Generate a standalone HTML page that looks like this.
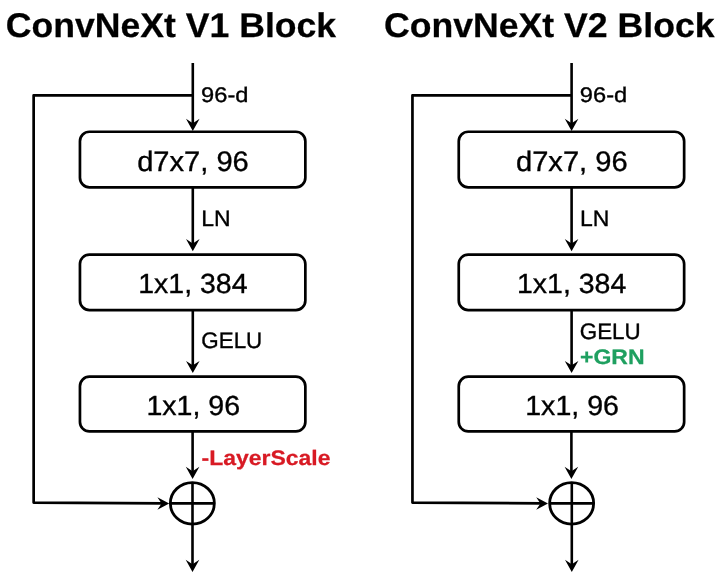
<!DOCTYPE html>
<html><head><meta charset="utf-8">
<style>
html,body{margin:0;padding:0;background:#fff;width:720px;height:577px;overflow:hidden}
svg{display:block;filter:blur(0.4px)}
text{font-family:"Liberation Sans",sans-serif;text-rendering:geometricPrecision}
</style></head><body>
<svg width="720" height="577" viewBox="0 0 720 577">
<g transform="translate(0,0)"><line x1="192.8" y1="63" x2="192.8" y2="124" stroke="#000" stroke-width="2.6"/>
<path d="M186.00,118.80 L192.80,131.00 L199.60,118.80 L192.80,123.20 Z" fill="#000"/>
<polyline points="192.8,95.3 33.65,95.3 33.65,502.6 164,503.4" fill="none" stroke="#000" stroke-width="2.7" stroke-linejoin="round"/>
<path d="M157.40,497.15 L169.20,503.40 L157.40,509.65 L161.60,503.40 Z" fill="#000"/>
<rect x="79.95" y="131.75" width="225.4" height="55.60" rx="9.5" fill="none" stroke="#000" stroke-width="2.7"/>
<rect x="79.95" y="254.55" width="225.4" height="55.50" rx="9.5" fill="none" stroke="#000" stroke-width="2.7"/>
<rect x="79.95" y="376.65" width="225.4" height="54.80" rx="9.5" fill="none" stroke="#000" stroke-width="2.7"/>
<line x1="192.8" y1="188" x2="192.8" y2="246" stroke="#000" stroke-width="2.6"/>
<path d="M186.00,239.00 L192.80,251.20 L199.60,239.00 L192.80,243.40 Z" fill="#000"/>
<line x1="192.8" y1="311" x2="192.8" y2="368" stroke="#000" stroke-width="2.6"/>
<path d="M186.00,360.90 L192.80,373.10 L199.60,360.90 L192.80,365.30 Z" fill="#000"/>
<line x1="192.6" y1="432" x2="192.6" y2="474" stroke="#000" stroke-width="2.6"/>
<path d="M185.80,466.80 L192.60,479.00 L199.40,466.80 L192.60,471.20 Z" fill="#000"/>
<ellipse cx="192.35" cy="503.35" rx="22.0" ry="20.8" fill="none" stroke="#000" stroke-width="2.8"/>
<line x1="192.5" y1="482" x2="192.5" y2="566" stroke="#000" stroke-width="2.6"/>
<line x1="170.5" y1="503.4" x2="214.2" y2="503.4" stroke="#000" stroke-width="2.6"/>
<path d="M185.70,559.80 L192.50,572.00 L199.30,559.80 L192.50,564.20 Z" fill="#000"/></g>
<g transform="translate(378.8,0)"><line x1="192.8" y1="63" x2="192.8" y2="124" stroke="#000" stroke-width="2.6"/>
<path d="M186.00,118.80 L192.80,131.00 L199.60,118.80 L192.80,123.20 Z" fill="#000"/>
<polyline points="192.8,95.3 33.65,95.3 33.65,502.6 164,503.4" fill="none" stroke="#000" stroke-width="2.7" stroke-linejoin="round"/>
<path d="M157.40,497.15 L169.20,503.40 L157.40,509.65 L161.60,503.40 Z" fill="#000"/>
<rect x="79.95" y="131.75" width="225.4" height="55.60" rx="9.5" fill="none" stroke="#000" stroke-width="2.7"/>
<rect x="79.95" y="254.55" width="225.4" height="55.50" rx="9.5" fill="none" stroke="#000" stroke-width="2.7"/>
<rect x="79.95" y="376.65" width="225.4" height="54.80" rx="9.5" fill="none" stroke="#000" stroke-width="2.7"/>
<line x1="192.8" y1="188" x2="192.8" y2="246" stroke="#000" stroke-width="2.6"/>
<path d="M186.00,239.00 L192.80,251.20 L199.60,239.00 L192.80,243.40 Z" fill="#000"/>
<line x1="192.8" y1="311" x2="192.8" y2="368" stroke="#000" stroke-width="2.6"/>
<path d="M186.00,360.90 L192.80,373.10 L199.60,360.90 L192.80,365.30 Z" fill="#000"/>
<line x1="192.6" y1="432" x2="192.6" y2="474" stroke="#000" stroke-width="2.6"/>
<path d="M185.80,466.80 L192.60,479.00 L199.40,466.80 L192.60,471.20 Z" fill="#000"/>
<ellipse cx="192.85" cy="503.35" rx="22.0" ry="20.8" fill="none" stroke="#000" stroke-width="2.8"/>
<line x1="193.0" y1="482" x2="193.0" y2="566" stroke="#000" stroke-width="2.6"/>
<line x1="171.0" y1="503.4" x2="214.7" y2="503.4" stroke="#000" stroke-width="2.6"/>
<path d="M186.20,559.80 L193.00,572.00 L199.80,559.80 L193.00,564.20 Z" fill="#000"/></g>
<text x="5.80" y="36.54" font-size="34.30" font-weight="bold" fill="#000" stroke="#000" stroke-width="0.25" textLength="330.31" lengthAdjust="spacingAndGlyphs">ConvNeXt V1 Block</text>
<text x="383.97" y="36.54" font-size="34.30" font-weight="bold" fill="#000" stroke="#000" stroke-width="0.25" textLength="330.59" lengthAdjust="spacingAndGlyphs">ConvNeXt V2 Block</text>
<text x="201.08" y="102.18" font-size="21.20" font-weight="normal" fill="#000" stroke="#000" stroke-width="0.35" textLength="47.37" lengthAdjust="spacingAndGlyphs">96-d</text>
<text x="579.88" y="102.18" font-size="21.20" font-weight="normal" fill="#000" stroke="#000" stroke-width="0.35" textLength="47.37" lengthAdjust="spacingAndGlyphs">96-d</text>
<text x="137.17" y="170.66" font-size="28.20" font-weight="normal" fill="#000" stroke="#000" stroke-width="0.35" textLength="111.63" lengthAdjust="spacingAndGlyphs">d7x7, 96</text>
<text x="515.97" y="170.66" font-size="28.20" font-weight="normal" fill="#000" stroke="#000" stroke-width="0.35" textLength="111.63" lengthAdjust="spacingAndGlyphs">d7x7, 96</text>
<text x="201.29" y="225.61" font-size="22.40" font-weight="normal" fill="#000" stroke="#000" stroke-width="0.35" textLength="29.39" lengthAdjust="spacingAndGlyphs">LN</text>
<text x="580.09" y="225.61" font-size="22.40" font-weight="normal" fill="#000" stroke="#000" stroke-width="0.35" textLength="29.39" lengthAdjust="spacingAndGlyphs">LN</text>
<text x="138.23" y="292.98" font-size="27.60" font-weight="normal" fill="#000" stroke="#000" stroke-width="0.35" textLength="109.27" lengthAdjust="spacingAndGlyphs">1x1, 384</text>
<text x="517.03" y="292.98" font-size="27.60" font-weight="normal" fill="#000" stroke="#000" stroke-width="0.35" textLength="109.27" lengthAdjust="spacingAndGlyphs">1x1, 384</text>
<text x="201.31" y="347.99" font-size="22.40" font-weight="normal" fill="#000" stroke="#000" stroke-width="0.35" textLength="60.95" lengthAdjust="spacingAndGlyphs">GELU</text>
<text x="146.42" y="414.50" font-size="27.60" font-weight="normal" fill="#000" stroke="#000" stroke-width="0.35" textLength="93.70" lengthAdjust="spacingAndGlyphs">1x1, 96</text>
<text x="525.22" y="414.50" font-size="27.60" font-weight="normal" fill="#000" stroke="#000" stroke-width="0.35" textLength="93.70" lengthAdjust="spacingAndGlyphs">1x1, 96</text>
<text x="201.52" y="465.46" font-size="21.00" font-weight="bold" fill="#d81a24" stroke="#d81a24" stroke-width="0.25" textLength="128.94" lengthAdjust="spacingAndGlyphs">-LayerScale</text>
<text x="579.73" y="338.99" font-size="22.40" font-weight="normal" fill="#000" stroke="#000" stroke-width="0.35" textLength="60.95" lengthAdjust="spacingAndGlyphs">GELU</text>
<text x="580.00" y="364.33" font-size="21.00" font-weight="bold" fill="#1fa060" stroke="#1fa060" stroke-width="0.25" textLength="64.65" lengthAdjust="spacingAndGlyphs">+GRN</text>
</svg>
</body></html>
